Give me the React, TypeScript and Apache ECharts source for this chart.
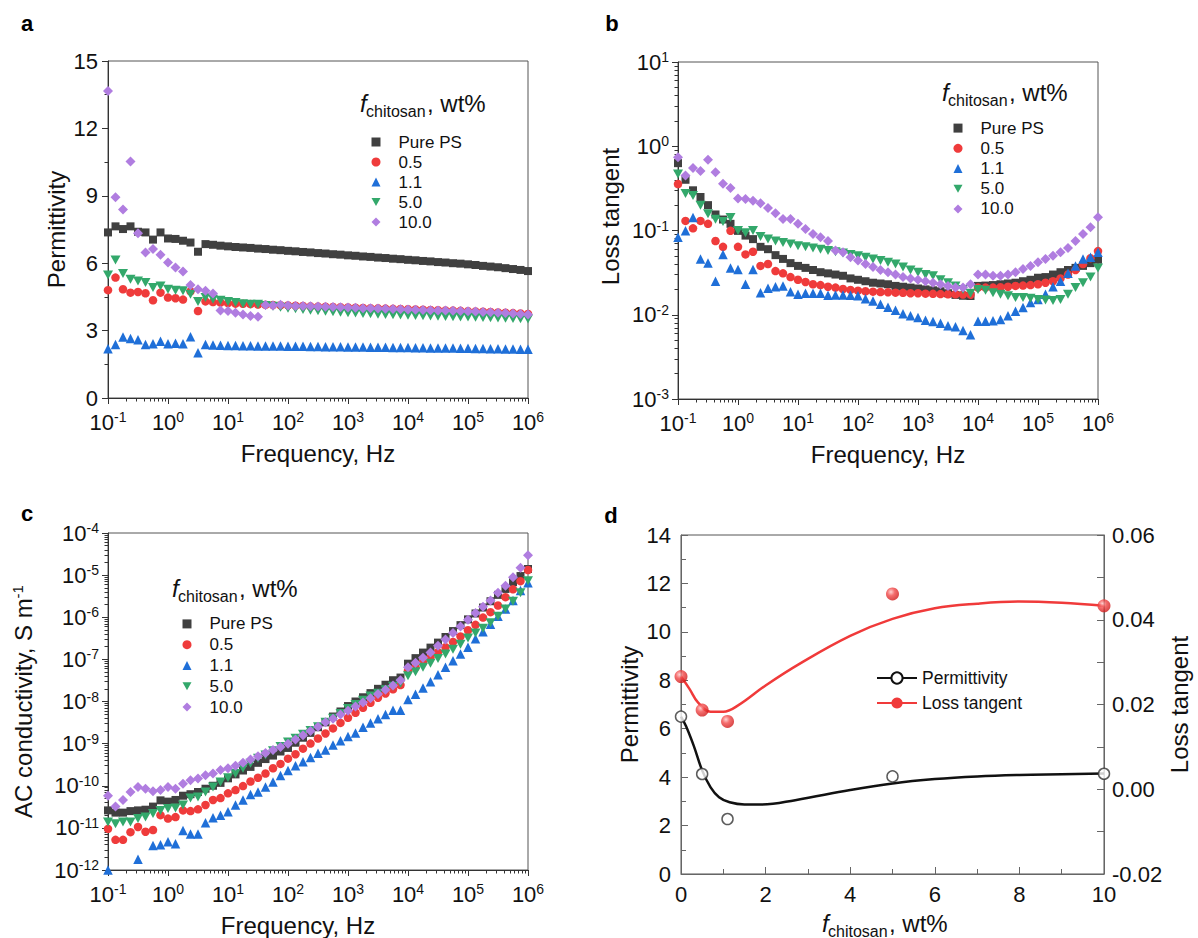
import React, { useEffect, useRef } from 'react';
import * as echarts from 'echarts';

// ---------------- DATA ----------------
const FREQ = [
  0.1, 0.1334, 0.1778, 0.2371, 0.3162, 0.4217, 0.5623, 0.7499,
  1, 1.334, 1.778, 2.371, 3.162, 4.217, 5.623, 7.499,
  10, 13.34, 17.78, 23.71, 31.62, 42.17, 56.23, 74.99,
  100, 133.4, 177.8, 237.1, 316.2, 421.7, 562.3, 749.9,
  1000, 1334, 1778, 2371, 3162, 4217, 5623, 7499,
  10000, 13340, 17780, 23710, 31620, 42170, 56230, 74990,
  100000, 133400, 177800, 237100, 316200, 421700, 562300, 749900,
  1000000,
];

const NAMES = ['Pure PS', '0.5', '1.1', '5.0', '10.0'];

// (a) permittivity
const PERM_PS = [7.37, 7.64, 7.52, 7.64, 7.4, 7.37, 7.05, 7.37, 7.1, 7.08, 7.0, 6.92, 6.51, 6.85, 6.82, 6.78, 6.75, 6.72, 6.7, 6.68, 6.65, 6.63, 6.6, 6.58, 6.55, 6.53, 6.5, 6.48, 6.45, 6.43, 6.4, 6.38, 6.35, 6.33, 6.3, 6.28, 6.25, 6.23, 6.2, 6.18, 6.15, 6.13, 6.1, 6.08, 6.05, 6.03, 6.0, 5.98, 5.95, 5.92, 5.88, 5.85, 5.82, 5.78, 5.74, 5.7, 5.65];
const PERM_05 = [4.8, 5.36, 4.84, 4.69, 4.72, 4.66, 4.35, 4.69, 4.47, 4.44, 4.38, 4.75, 3.87, 4.3, 4.27, 4.25, 4.22, 4.2, 4.19, 4.18, 4.16, 4.15, 4.14, 4.13, 4.12, 4.11, 4.1, 4.08, 4.07, 4.06, 4.05, 4.04, 4.03, 4.02, 4.01, 4.0, 3.99, 3.98, 3.97, 3.96, 3.95, 3.94, 3.93, 3.92, 3.91, 3.9, 3.89, 3.88, 3.86, 3.85, 3.84, 3.83, 3.81, 3.8, 3.78, 3.76, 3.74];
const PERM_11 = [2.19, 2.38, 2.71, 2.65, 2.59, 2.38, 2.41, 2.53, 2.41, 2.44, 2.41, 2.73, 2.01, 2.38, 2.36, 2.35, 2.34, 2.34, 2.33, 2.33, 2.32, 2.32, 2.31, 2.31, 2.3, 2.3, 2.3, 2.29, 2.29, 2.28, 2.28, 2.28, 2.27, 2.27, 2.27, 2.26, 2.26, 2.26, 2.25, 2.25, 2.25, 2.24, 2.24, 2.23, 2.23, 2.22, 2.22, 2.21, 2.21, 2.2, 2.2, 2.19, 2.19, 2.18, 2.18, 2.17, 2.17];
const PERM_50 = [5.47, 6.14, 5.54, 5.29, 5.21, 5.14, 4.92, 4.99, 4.84, 4.8, 4.77, 4.62, 4.29, 4.47, 4.39, 4.35, 4.29, 4.25, 4.2, 4.17, 4.17, 4.12, 4.08, 4.04, 4.0, 3.97, 3.94, 3.91, 3.88, 3.86, 3.84, 3.82, 3.8, 3.78, 3.76, 3.75, 3.73, 3.72, 3.7, 3.69, 3.68, 3.67, 3.66, 3.65, 3.64, 3.63, 3.62, 3.61, 3.6, 3.59, 3.58, 3.57, 3.56, 3.55, 3.54, 3.53, 3.52];
const PERM_100 = [13.67, 8.94, 8.39, 10.53, 7.33, 6.48, 6.63, 6.38, 6.03, 5.81, 5.63, 5.03, 4.84, 4.77, 4.65, 3.9, 3.87, 3.8, 3.72, 3.65, 3.62, 4.14, 4.12, 4.15, 4.12, 4.1, 4.09, 4.08, 4.07, 4.06, 4.05, 4.04, 4.03, 4.02, 4.0, 3.99, 3.98, 3.97, 3.96, 3.95, 3.94, 3.93, 3.92, 3.91, 3.9, 3.89, 3.88, 3.87, 3.86, 3.85, 3.83, 3.82, 3.8, 3.78, 3.76, 3.74, 3.72];

// (b) loss tangent
const TAN_PS = [0.63, 0.4, 0.3, 0.25, 0.2, 0.155, 0.135, 0.12, 0.099, 0.087, 0.079, 0.064, 0.06, 0.051, 0.046, 0.041, 0.038, 0.036, 0.034, 0.032, 0.031, 0.03, 0.029, 0.027, 0.026, 0.025, 0.024, 0.0235, 0.023, 0.022, 0.0215, 0.021, 0.0205, 0.02, 0.0195, 0.019, 0.018, 0.0172, 0.0168, 0.0167, 0.022, 0.0222, 0.0225, 0.023, 0.0235, 0.024, 0.025, 0.026, 0.0275, 0.028, 0.03, 0.032, 0.034, 0.036, 0.038, 0.041, 0.045];
const TAN_05 = [0.356, 0.13, 0.106, 0.13, 0.12, 0.075, 0.064, 0.099, 0.064, 0.052, 0.056, 0.038, 0.04, 0.033, 0.031, 0.028, 0.026, 0.0245, 0.023, 0.0225, 0.0215, 0.021, 0.0202, 0.0197, 0.0193, 0.019, 0.0188, 0.0186, 0.0185, 0.0183, 0.0182, 0.018, 0.018, 0.0178, 0.0177, 0.0176, 0.0175, 0.0175, 0.0174, 0.0173, 0.021, 0.021, 0.021, 0.0212, 0.0215, 0.022, 0.0222, 0.0225, 0.023, 0.024, 0.025, 0.027, 0.03, 0.034, 0.04, 0.047, 0.057];
const TAN_11 = [0.083, 0.099, 0.143, 0.046, 0.041, 0.025, 0.052, 0.036, 0.0345, 0.023, 0.0345, 0.0183, 0.0206, 0.0215, 0.022, 0.0187, 0.0175, 0.018, 0.018, 0.018, 0.017, 0.0172, 0.0172, 0.017, 0.0168, 0.0155, 0.0146, 0.0133, 0.0123, 0.0113, 0.0103, 0.0097, 0.0093, 0.0086, 0.0083, 0.0079, 0.0074, 0.0072, 0.0065, 0.0058, 0.0084, 0.0084, 0.0085, 0.0088, 0.0097, 0.011, 0.0122, 0.014, 0.0152, 0.0175, 0.0215, 0.025, 0.031, 0.038, 0.046, 0.048, 0.055];
const TAN_50 = [0.47, 0.275, 0.26, 0.2, 0.158, 0.136, 0.128, 0.143, 0.1, 0.094, 0.1, 0.085, 0.079, 0.075, 0.072, 0.069, 0.066, 0.064, 0.062, 0.06, 0.058, 0.056, 0.054, 0.052, 0.05, 0.048, 0.046, 0.044, 0.042, 0.04, 0.037, 0.034, 0.032, 0.03, 0.029, 0.026, 0.024, 0.022, 0.02, 0.018, 0.02, 0.0195, 0.0183, 0.0175, 0.0168, 0.016, 0.016, 0.0157, 0.0152, 0.015, 0.0148, 0.0152, 0.0175, 0.021, 0.024, 0.028, 0.036];
const TAN_100 = [0.74, 0.45, 0.55, 0.51, 0.69, 0.49, 0.36, 0.32, 0.24, 0.236, 0.225, 0.21, 0.185, 0.16, 0.137, 0.137, 0.12, 0.104, 0.091, 0.083, 0.075, 0.058, 0.055, 0.048, 0.044, 0.04, 0.037, 0.034, 0.032, 0.03, 0.028, 0.027, 0.026, 0.025, 0.024, 0.023, 0.022, 0.021, 0.021, 0.023, 0.03, 0.03, 0.029, 0.029, 0.03, 0.032, 0.035, 0.038, 0.042, 0.046, 0.05, 0.055, 0.062, 0.075, 0.091, 0.109, 0.144];

// (c) AC conductivity, S/m
const SIG_PS = [2.6e-11, 2.3e-11, 2.3e-11, 2.5e-11, 2.6e-11, 2.7e-11, 3.2e-11, 4.5e-11, 4.2e-11, 4.6e-11, 5.8e-11, 6.3e-11, 7.1e-11, 8.5e-11, 1.0e-10, 1.17e-10, 1.5e-10, 1.86e-10, 2.3e-10, 2.8e-10, 3.5e-10, 4.3e-10, 5.2e-10, 6.5e-10, 7.9e-10, 1.05e-9, 1.38e-9, 1.8e-9, 2.45e-9, 3.2e-9, 4.4e-9, 5.8e-9, 7.8e-9, 1.0e-8, 1.26e-8, 1.58e-8, 2.0e-8, 2.5e-8, 3.2e-8, 3.7e-8, 7.9e-8, 1.07e-7, 1.45e-7, 1.9e-7, 2.5e-7, 3.4e-7, 4.7e-7, 6.5e-7, 8.9e-7, 1.23e-6, 1.7e-6, 2.4e-6, 3.4e-6, 4.7e-6, 6.8e-6, 9.5e-6, 1.4e-5];
const SIG_05 = [9.5e-12, 5.2e-12, 5.2e-12, 7.9e-12, 1.05e-11, 8.1e-12, 8.9e-12, 2.0e-11, 1.66e-11, 1.8e-11, 2.6e-11, 2.5e-11, 2.75e-11, 3.5e-11, 4.6e-11, 5.1e-11, 6.6e-11, 7.9e-11, 9.8e-11, 1.26e-10, 1.55e-10, 1.95e-10, 2.6e-10, 3.3e-10, 4.4e-10, 5.6e-10, 7.6e-10, 1.0e-9, 1.32e-9, 1.74e-9, 2.3e-9, 3.1e-9, 4.1e-9, 5.4e-9, 7.1e-9, 9.3e-9, 1.23e-8, 1.55e-8, 1.95e-8, 2.45e-8, 5.4e-8, 6.5e-8, 8.5e-8, 1.12e-7, 1.48e-7, 1.95e-7, 2.6e-7, 3.5e-7, 4.9e-7, 6.6e-7, 9.8e-7, 1.32e-6, 1.9e-6, 3.0e-6, 4.6e-6, 7.2e-6, 1.32e-5];
const SIG_11 = [1.0e-12, null, null, null, 1.8e-12, null, 3.8e-12, 4.0e-12, 4.7e-12, 4.2e-12, 8.7e-12, 7.2e-12, 7.2e-12, 1.32e-11, 1.74e-11, 2.0e-11, 2.4e-11, 3.5e-11, 4.6e-11, 6.2e-11, 7.1e-11, 9.3e-11, 1.23e-10, 1.74e-10, 2.3e-10, 3.0e-10, 3.7e-10, 4.7e-10, 5.9e-10, 7.1e-10, 9.3e-10, 1.17e-9, 1.48e-9, 1.78e-9, 2.45e-9, 3.1e-9, 3.9e-9, 4.9e-9, 6.2e-9, 6.2e-9, 1.12e-8, 1.48e-8, 2.1e-8, 2.95e-8, 4.3e-8, 6.5e-8, 9.3e-8, 1.35e-7, 1.95e-7, 3.1e-7, 4.5e-7, 6.8e-7, 1.05e-6, 1.58e-6, 2.5e-6, 4.3e-6, 6.6e-6];
const SIG_50 = [1.38e-11, 1.26e-11, 1.38e-11, 1.38e-11, 1.66e-11, 1.82e-11, 2.2e-11, 2.6e-11, 2.9e-11, 2.95e-11, 3.5e-11, 5.1e-11, 5.4e-11, 7.1e-11, 9.3e-11, 1.23e-10, 1.55e-10, 1.95e-10, 2.6e-10, 3.4e-10, 4.5e-10, 5.4e-10, 6.8e-10, 8.5e-10, 1.1e-9, 1.35e-9, 1.66e-9, 2.05e-9, 2.5e-9, 3.2e-9, 4.0e-9, 5.2e-9, 6.8e-9, 8.5e-9, 1.07e-8, 1.35e-8, 1.58e-8, 1.9e-8, 2.3e-8, 2.7e-8, 4.1e-8, 5.1e-8, 6.5e-8, 8.1e-8, 1.05e-7, 1.35e-7, 1.74e-7, 2.3e-7, 3.2e-7, 4.2e-7, 5.5e-7, 7.4e-7, 1.05e-6, 1.58e-6, 2.4e-6, 3.8e-6, 7.4e-6];
const SIG_100 = [5.8e-11, 3.2e-11, 4.6e-11, 7.1e-11, 9.3e-11, 8.5e-11, 7.4e-11, 7.9e-11, 9.3e-11, 8.5e-11, 1.12e-10, 1.35e-10, 1.48e-10, 1.78e-10, 1.95e-10, 2.35e-10, 2.6e-10, 3.0e-10, 3.5e-10, 4.2e-10, 5.0e-10, 6.0e-10, 7.1e-10, 8.3e-10, 1.0e-9, 1.26e-9, 1.58e-9, 2.0e-9, 2.5e-9, 3.2e-9, 3.9e-9, 4.9e-9, 6.0e-9, 7.6e-9, 9.5e-9, 1.2e-8, 1.5e-8, 1.9e-8, 2.4e-8, 3.2e-8, 6.5e-8, 8.3e-8, 1.1e-7, 1.45e-7, 2.1e-7, 2.95e-7, 4.2e-7, 6.0e-7, 8.7e-7, 1.26e-6, 1.78e-6, 2.5e-6, 3.8e-6, 5.6e-6, 8.9e-6, 1.5e-5, 2.95e-5];

// (d) summary vs chitosan content
const CHITOSAN = [0, 0.5, 1.1, 5, 10];
const D_PERM = [6.5, 4.13, 2.27, 4.03, 4.14];
const D_TAN = [0.0266, 0.0187, 0.016, 0.0461, 0.0433];
const FIT_PERM_X = [0, 0.12, 0.3, 0.5, 0.7, 0.9, 1.15, 1.5, 1.9, 2.7, 4, 5, 6, 7, 8, 9, 10];
const FIT_PERM_Y = [6.5, 6.1, 5.3, 4.28, 3.58, 3.17, 2.96, 2.87, 2.87, 3.05, 3.47, 3.74, 3.92, 4.03, 4.09, 4.12, 4.15];
const FIT_TAN_X = [0, 0.2, 0.4, 0.7, 1.0, 1.35, 2, 2.8, 4, 5, 6, 7, 8, 9, 10];
const FIT_TAN_Y = [0.0266, 0.0237, 0.0205, 0.0183, 0.0183, 0.0198, 0.0245, 0.0296, 0.0362, 0.0402, 0.0427, 0.0438, 0.0443, 0.044, 0.0433];

// ---------------- STYLE ----------------
const FONT = '"Liberation Sans", Arial, Helvetica, sans-serif';
const AX = '#333333';
const TXT = '#111111';
const COLORS = ['#404040', '#ef3b3b', '#1f6fd8', '#33a86b', '#b07de0'];
const SYMBOLS = ['rect', 'circle', 'triangle', 'path://M0,0L10,0L5,9Z', 'diamond'];
const SIZES: any[] = [8, 8.5, 9.5, [10, 9], 10];

const TICK_FS = 22;
const NAME_FS = 24;

const POW_RICH = {
  b: { fontFamily: FONT, fontSize: TICK_FS, color: TXT, lineHeight: 24 },
  s: { fontFamily: FONT, fontSize: 14, color: TXT, verticalAlign: 'top', lineHeight: 14 },
};
const powFmt = (v: number) => {
  const e = Math.round(Math.log10(v));
  return `{b|10}{s|${e}}`;
};

const nameStyle = (extra: any = {}) => ({ fontFamily: FONT, fontSize: NAME_FS, color: TXT, ...extra });

const logXAxis = (gridIndex: number, namePad: number[] = [0, 0, 0, 0]) => ({
  type: 'log', logBase: 10, gridIndex, min: 0.1, max: 1e6,
  name: 'Frequency, Hz', nameLocation: 'middle', nameGap: 43,
  nameTextStyle: nameStyle({ padding: namePad }),
  axisLine: { show: true, lineStyle: { color: AX, width: 1 } },
  axisTick: { show: true, length: 6, lineStyle: { color: AX } },
  minorTick: { show: true, splitNumber: 9, length: 3.5, lineStyle: { color: AX } },
  splitLine: { show: false },
  axisLabel: { margin: 12, formatter: powFmt, rich: POW_RICH },
});

const scatterSeries = (vals: (number | null)[], k: number, axisIdx: number) => ({
  name: NAMES[k], type: 'scatter', xAxisIndex: axisIdx, yAxisIndex: axisIdx,
  symbol: SYMBOLS[k], symbolSize: SIZES[k],
  itemStyle: { color: COLORS[k], opacity: 1 },
  data: FREQ.map((f, i) => [f, vals[i]]).filter((d) => d[1] != null),
  z: 2 + k,
});

const legendFor = (left: number, top: number, lh: number) => ({
  orient: 'vertical', left, top, padding: 0, itemGap: 0, itemWidth: 9, itemHeight: 9,
  selectedMode: false, data: NAMES,
  textStyle: { fontFamily: FONT, fontSize: 17, color: TXT, lineHeight: lh, padding: [0, 0, 0, 13] },
});

const fTitle = (x: number, y: number) => ({
  type: 'group',
  children: [
    { type: 'text', x, y, style: { text: 'f', fontFamily: FONT, fontSize: 24, fontStyle: 'italic', fill: TXT, align: 'left', verticalAlign: 'middle' } },
    { type: 'text', x: x + 6, y: y + 8, style: { text: 'chitosan', fontFamily: FONT, fontSize: 16, fill: TXT, align: 'left', verticalAlign: 'middle' } },
    { type: 'text', x: x + 67, y, style: { text: ', wt%', fontFamily: FONT, fontSize: 24, fill: TXT, align: 'left', verticalAlign: 'middle' } },
  ],
});

const panelLetter = (t: string, x: number, y: number) => ({
  type: 'text', x, y,
  style: { text: t, fontFamily: FONT, fontSize: 22, fontWeight: 'bold', fill: '#000', align: 'center', verticalAlign: 'middle' },
});

const gridBox = (left: number, top: number, width: number, height: number) => ({
  left, top, width, height, show: true, borderColor: '#555', borderWidth: 1, backgroundColor: 'transparent',
});

export default function App() {
  const ref = useRef<HTMLDivElement>(null);

  useEffect(() => {
    if (!ref.current) return;
    const chart = echarts.init(ref.current, undefined, { renderer: 'svg' });

    const lossGrad = new echarts.graphic.RadialGradient(0.38, 0.35, 0.65, [
      { offset: 0, color: '#ffc8c8' },
      { offset: 0.45, color: '#f24a4a' },
      { offset: 1, color: '#d01c1c' },
    ]);

    const option: any = {
      animation: false,
      backgroundColor: '#ffffff',
      grid: [
        gridBox(108, 61, 420, 337),
        gridBox(678, 62, 420, 337),
        gridBox(108, 533, 420, 337),
        gridBox(681, 535, 423, 339),
      ],
      xAxis: [
        logXAxis(0),
        logXAxis(1),
        logXAxis(2, [0, 40, 0, 0]),
        {
          type: 'value', gridIndex: 3, min: 0, max: 10, interval: 2,
          axisLine: { show: true, lineStyle: { color: '#666', width: 1 } },
          axisTick: { show: true, inside: true, length: 7, lineStyle: { color: '#666' } },
          minorTick: { show: true, splitNumber: 2, length: 5, lineStyle: { color: '#666' } },
          splitLine: { show: false },
          axisLabel: { margin: 9, fontFamily: FONT, fontSize: TICK_FS, color: TXT },
        },
      ],
      yAxis: [
        {
          type: 'value', gridIndex: 0, min: 0, max: 15, interval: 3,
          name: 'Permittivity', nameLocation: 'middle', nameGap: 40, nameRotate: 90,
          nameTextStyle: nameStyle(),
          axisLine: { show: true, lineStyle: { color: AX, width: 1 } },
          axisTick: { show: true, length: 6, lineStyle: { color: AX } },
          minorTick: { show: true, splitNumber: 2, length: 3.5, lineStyle: { color: AX } },
          splitLine: { show: false },
          axisLabel: { margin: 10, fontFamily: FONT, fontSize: TICK_FS, color: TXT },
        },
        {
          type: 'log', logBase: 10, gridIndex: 1, min: 1e-3, max: 10,
          name: 'Loss tangent', nameLocation: 'middle', nameGap: 56, nameRotate: 90,
          nameTextStyle: nameStyle({ padding: [0, 0, 0, 28] }),
          axisLine: { show: true, lineStyle: { color: AX, width: 1 } },
          axisTick: { show: true, length: 6, lineStyle: { color: AX } },
          minorTick: { show: true, splitNumber: 9, length: 3.5, lineStyle: { color: AX } },
          splitLine: { show: false },
          axisLabel: { margin: 9, formatter: powFmt, rich: POW_RICH },
        },
        {
          type: 'log', logBase: 10, gridIndex: 2, min: 1e-12, max: 1e-4,
          name: '{n|AC conductivity, S m}{s|-1}', nameLocation: 'middle', nameGap: 71, nameRotate: 90,
          nameTextStyle: nameStyle({
            rich: {
              n: { fontFamily: FONT, fontSize: NAME_FS, color: TXT, lineHeight: 27 },
              s: { fontFamily: FONT, fontSize: 15, color: TXT, verticalAlign: 'top', lineHeight: 15 },
            },
          }),
          axisLine: { show: true, lineStyle: { color: AX, width: 1 } },
          axisTick: { show: true, length: 6, lineStyle: { color: AX } },
          minorTick: { show: true, splitNumber: 9, length: 3.5, lineStyle: { color: AX } },
          splitLine: { show: false },
          axisLabel: { margin: 9, formatter: powFmt, rich: POW_RICH },
        },
        {
          type: 'value', gridIndex: 3, min: 0, max: 14, interval: 2,
          name: 'Permittivity', nameLocation: 'middle', nameGap: 40, nameRotate: 90,
          nameTextStyle: nameStyle(),
          axisLine: { show: true, lineStyle: { color: '#666', width: 1 } },
          axisTick: { show: true, inside: true, length: 7, lineStyle: { color: '#666' } },
          minorTick: { show: true, splitNumber: 2, length: 5, lineStyle: { color: '#666' } },
          splitLine: { show: false },
          axisLabel: { margin: 10, fontFamily: FONT, fontSize: TICK_FS, color: TXT },
        },
        {
          type: 'value', gridIndex: 3, position: 'right', min: -0.02, max: 0.06, interval: 0.02,
          name: 'Loss tangent', nameLocation: 'middle', nameGap: 63, nameRotate: 90,
          nameTextStyle: nameStyle(),
          axisLine: { show: true, lineStyle: { color: '#666', width: 1 } },
          axisTick: { show: true, inside: true, length: 7, lineStyle: { color: '#666' } },
          minorTick: { show: true, splitNumber: 2, length: 7, lineStyle: { color: '#666' } },
          splitLine: { show: false },
          axisLabel: { margin: 8, fontFamily: FONT, fontSize: TICK_FS, color: TXT, formatter: (v: number) => v.toFixed(2) },
        },
      ],
      legend: [
        legendFor(371.5, 132, 20),
        legendFor(953.5, 118, 20.2),
        legendFor(182.5, 613.5, 20.8),
        {
          orient: 'vertical', left: 876, top: 668, padding: 0, itemGap: 5, itemWidth: 40, itemHeight: 14,
          selectedMode: false, data: ['Permittivity', 'Loss tangent'],
          textStyle: { fontFamily: FONT, fontSize: 17.5, color: TXT, lineHeight: 20 },
        },
      ],
      graphic: [
        panelLetter('a', 27, 23),
        panelLetter('b', 612, 23),
        panelLetter('c', 27, 513),
        panelLetter('d', 611, 515),
        fTitle(360, 103),
        fTitle(942, 92),
        fTitle(172, 588),
        fTitle(822, 923),
      ],
      series: [
        scatterSeries(PERM_PS, 0, 0),
        scatterSeries(PERM_05, 1, 0),
        scatterSeries(PERM_11, 2, 0),
        scatterSeries(PERM_50, 3, 0),
        scatterSeries(PERM_100, 4, 0),
        scatterSeries(TAN_PS, 0, 1),
        scatterSeries(TAN_05, 1, 1),
        scatterSeries(TAN_11, 2, 1),
        scatterSeries(TAN_50, 3, 1),
        scatterSeries(TAN_100, 4, 1),
        scatterSeries(SIG_PS, 0, 2),
        scatterSeries(SIG_05, 1, 2),
        scatterSeries(SIG_11, 2, 2),
        scatterSeries(SIG_50, 3, 2),
        scatterSeries(SIG_100, 4, 2),
        {
          name: 'Permittivity', type: 'line', xAxisIndex: 3, yAxisIndex: 3,
          data: FIT_PERM_X.map((x, i) => [x, FIT_PERM_Y[i]]),
          smooth: 0.4, showSymbol: false, symbol: 'emptyCircle', symbolSize: 12,
          lineStyle: { color: '#111', width: 2.5 }, itemStyle: { color: '#111' }, z: 3,
        },
        {
          name: 'Loss tangent', type: 'line', xAxisIndex: 3, yAxisIndex: 4,
          data: FIT_TAN_X.map((x, i) => [x, FIT_TAN_Y[i]]),
          smooth: 0.4, showSymbol: false, symbol: 'circle', symbolSize: 13,
          lineStyle: { color: '#f03a3a', width: 2.5 }, itemStyle: { color: '#f03a3a' }, z: 3,
        },
        {
          name: 'Permittivity points', type: 'scatter', xAxisIndex: 3, yAxisIndex: 3,
          data: CHITOSAN.map((x, i) => [x, D_PERM[i]]),
          symbol: 'circle', symbolSize: 11, clip: false,
          itemStyle: { color: '#ffffff', borderColor: '#333', borderWidth: 1.5 }, z: 5,
        },
        {
          name: 'Loss tangent points', type: 'scatter', xAxisIndex: 3, yAxisIndex: 4,
          data: CHITOSAN.map((x, i) => [x, D_TAN[i]]),
          symbol: 'circle', symbolSize: 13, clip: false,
          itemStyle: { color: lossGrad }, z: 5,
        },
      ],
    };

    chart.setOption(option);
    return () => chart.dispose();
  }, []);

  return (
    <div
      ref={ref}
      style={{ position: 'absolute', left: 0, top: 0, width: 1198, height: 938, background: '#fff' }}
    />
  );
}
